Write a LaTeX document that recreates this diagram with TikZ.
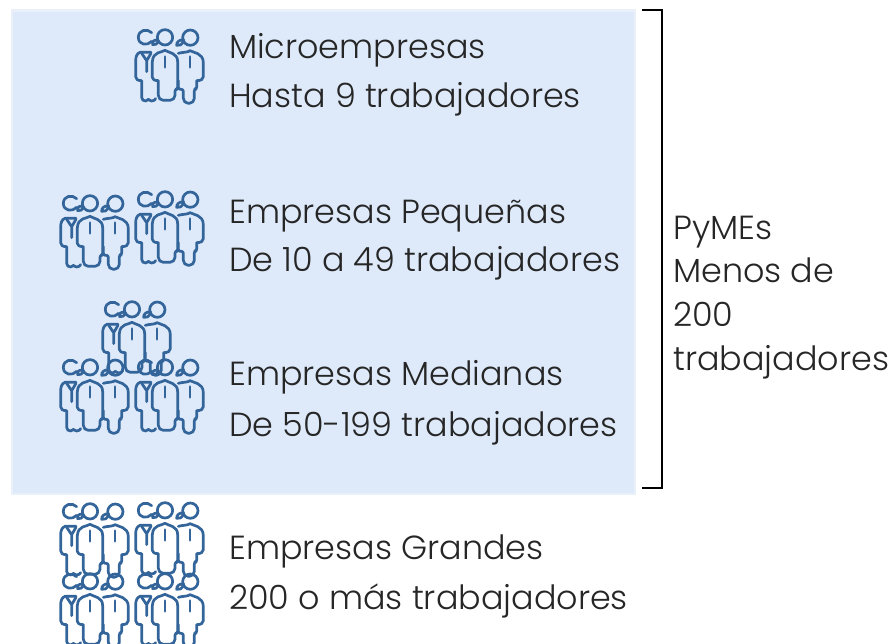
\documentclass[tikz,border=0pt]{standalone}
\usepackage{fontspec}
\setmainfont{Poppins Light}
\definecolor{iconblue}{HTML}{33659A}
\definecolor{panel}{HTML}{DEEAFA}
\definecolor{paneledge}{HTML}{EAF0FA}
\definecolor{ink}{HTML}{262626}
\tikzset{
  label/.style={anchor=base west,inner sep=0pt,font=\fontsize{33.4}{36}\selectfont,text=ink},
  iconline/.style={draw=iconblue,line width=2.7pt,line join=round,line cap=round},
  people/.pic={
    \begin{scope}[x=0.3333pt,y=-0.3333pt,iconline]
      \draw (80,38) .. controls (66,24) and (40,30) .. (40,52) .. controls (40,76) and (68,78) .. (80,64);
      \draw (120,52) circle[radius=23];
      \draw (196,53) circle[radius=23];
      \draw (100,62) .. controls (88,56) and (80,66) .. (83,74) .. controls (90,76) and (98,72) .. (100,62);
      \draw (176,60) .. controls (164,58) and (154,66) .. (155,76) .. controls (162,78) and (172,76) .. (176,60);
      % left body
      \draw (78,97) -- (45,97) .. controls (36,100) and (32,110) .. (32,122) -- (32,170) .. controls (32,178) and (38,182) .. (50,182)
        -- (50,232) .. controls (50,240) and (56,243) .. (62,243) .. controls (66,243) and (68,238) .. (70,238) .. controls (72,238) and (74,243) .. (80,243) .. controls (86,243) and (90,240) .. (92,236);
      \draw (50,100) -- (65,122) -- (78,100) (65,122) -- (65,155);
      % middle body
      \draw (120,91) .. controls (110,98) and (84,94) .. (82,125) -- (82,172) .. controls (82,178) and (88,182) .. (100,182)
        [rounded corners=5] -- (100,241) -- (150,241) [rounded corners=2] -- (150,208) -- (158,208) [sharp corners] -- (158,125) .. controls (158,98) and (130,98) .. (120,91);
      \draw (120,110) -- (120,142);
      % right body
      \draw (160,100) .. controls (172,96) and (188,98) .. (195,92) .. controls (204,98) and (235,98) .. (235,128) -- (235,170) .. controls (235,178) and (228,182) .. (215,182)
        [rounded corners=2] -- (215,207) -- (208,207) [rounded corners=5] -- (208,250) -- (175,250) [rounded corners=2] -- (175,208) -- (160,208) -- (160,182);
      \draw (195,110) -- (195,142);
    \end{scope}
  }
}
\begin{document}
\begin{tikzpicture}[x=1pt,y=-1pt]
\useasboundingbox (0,0) rectangle (888,644);
\clip (0,0) rectangle (888,644);
\fill[paneledge] (10.5,9.5) rectangle (636,495);
\fill[panel] (13,12) rectangle (633.5,492.5);
\draw[black,line width=2.2pt] (642,10) -- (662,10) -- (662,488) -- (642,488);
\pic at (125,20) {people};
\pic at (50,186) {people};
\pic at (125,182) {people};
\pic at (92,292) {people};
\pic at (50,350) {people};
\pic at (125,350) {people};
\pic at (50,494) {people};
\pic at (125,493) {people};
\pic at (50,564) {people};
\pic at (125,564) {people};
\node[label] (t1) at (229,58.5) {Microempresas};
\node[label] (t2) at (229,107.5) {Hasta 9 trabajadores};
\node[label] (t3) at (229,223.5) {Empresas Pequeñas};
\node[label] (t4) at (229,271.5) {De 10 a 49 trabajadores};
\node[label] (t5) at (229,385.5) {Empresas Medianas};
\node[label] (t6) at (229,436.5) {De 50-199 trabajadores};
\node[label] (t7) at (229,559.5) {Empresas Grandes};
\node[label] (t8) at (229,609.5) {200 o más trabajadores};
\node[label] (p1) at (673,239.5) {PyMEs};
\node[label] (p2) at (673,282.5) {Menos de};
\node[label] (p3) at (673,326.5) {200};
\node[label] (p4) at (673,370.5) {trabajadores};
\end{tikzpicture}
\end{document}
